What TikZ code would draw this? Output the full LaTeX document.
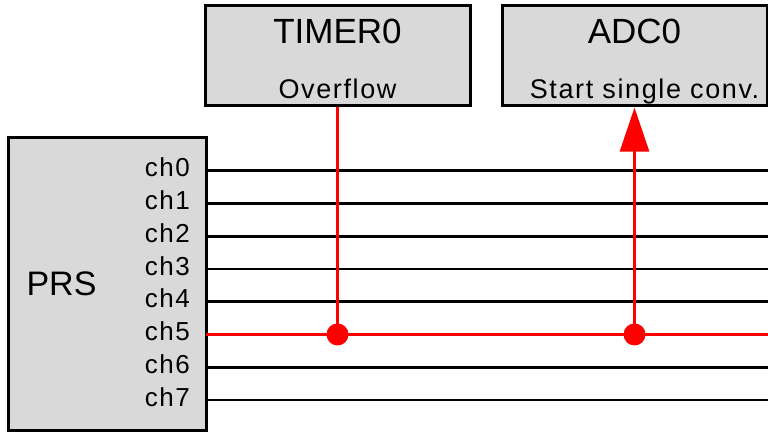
\documentclass[tikz,border=0pt]{standalone}
\usepackage{fontspec}
\setmainfont{Liberation Sans}
\newfontfamily\spacedfont{Liberation Sans}[LetterSpace=6]
\usetikzlibrary{arrows.meta}
\definecolor{blockgray}{RGB}{217,217,217}

\begin{document}
\begin{tikzpicture}[
x=1pt,
y=1pt,
block/.style={
draw,
line width=3pt,
fill=blockgray,
inner sep=0pt
},
title/.style={font=\fontsize{35}{42}\selectfont, anchor=base, inner sep=0pt},
sub/.style={font=\spacedfont\fontsize{27}{32}\selectfont, anchor=base, inner sep=0pt},
chlbl/.style={font=\spacedfont\fontsize{26}{30}\selectfont, anchor=east, inner sep=0pt},
chline/.style={line width=2.6pt},
sig/.style={red, line width=2.6pt},
dot/.style={circle, fill=red, inner sep=0pt, minimum size=22pt}
]
\useasboundingbox (0,0) rectangle (768,432);

% blocks
\node[block, minimum width=265pt, minimum height=100pt] (timer) at (337.5,376) {};
\node[block, minimum width=265pt, minimum height=100pt] (adc) at (634.5,376) {};
\node[block, minimum width=198pt, minimum height=293pt] (prs) at (107,148.5) {};

\node[title] (timertitle) at ([yshift=-39pt]timer.north) {TIMER0};
\node[sub] (timersig) at ([yshift=9pt]timer.south) {Overflow};
\node[title] (adctitle) at ([yshift=-39pt]adc.north) {ADC0};
\node[sub] (adcsig) at ([xshift=10pt,yshift=9pt]adc.south) {Start single conv.};
\node[font=\fontsize{34}{40}\selectfont] (prstitle) at (61.5,148) {PRS};

% channels
\foreach \i in {0,...,7}{
\pgfmathsetmacro\ychan{261.3-32.75*\i}
\coordinate (w\i) at (206,\ychan);
\coordinate (e\i) at (768,\ychan);
\node[chlbl] (ch\i) at (190,\ychan+3) {ch\i};
\draw[chline] (w\i) -- (e\i);
}

% ch5 routing
\draw[sig] (w5) -- (e5);
\node[dot] (jtimer) at (timer.south |- w5) {};
\node[dot] (jadc) at (adc.south |- w5) {};
\draw[sig] (timer.south) -- (jtimer.center);
\draw[sig, -{Triangle[length=44pt,width=29pt]}] (jadc.center) -- (adc.south);

\end{tikzpicture}
\end{document}
